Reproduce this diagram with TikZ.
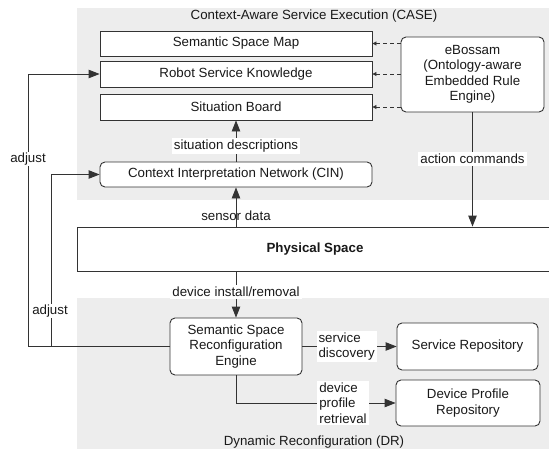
\documentclass[tikz,border=0pt]{standalone}
\usepackage{fontspec}
\setmainfont{Liberation Sans}
\usetikzlibrary{arrows.meta}
\definecolor{panel}{HTML}{EDEDED}
\definecolor{ink}{HTML}{333333}
\tikzset{
  box/.style={draw=ink, line width=0.9pt, fill=white, inner sep=0pt, align=center,
              font=\fontsize{13.3}{15.5}\selectfont, text=black!90},
  rbox/.style={box, rounded corners=5pt},
  arr/.style={draw=ink, line width=0.9pt, -{Triangle[length=11pt,width=8.5pt]}},
  darr/.style={draw=ink, line width=0.9pt, dashed, dash pattern=on 4pt off 3pt, -{Triangle[length=4pt,width=4pt]}},
  lbl/.style={fill=white, inner sep=2pt, font=\fontsize{13.3}{15.5}\selectfont, text=black!90},
  title/.style={font=\fontsize{13.3}{15.5}\selectfont, text=black!90}
}
\begin{document}
\begin{tikzpicture}[x=1pt,y=-1pt]
\useasboundingbox (0,0) rectangle (549,452);
\clip (0,0) rectangle (549,452);

% background panels
\fill[panel] (77,8) rectangle (560,200);
\fill[panel] (77,298) rectangle (560,449);
\node[title] (casetitle) at (314,16) {Context-Aware Service Execution (CASE)};
\node[title] (drtitle) at (314,442) {Dynamic Reconfiguration (DR)};

% CASE components
\node[box, minimum width=272pt, minimum height=25pt] (ssm) at (236,43.5) {Semantic Space Map};
\node[box, minimum width=272pt, minimum height=26pt] (rsk) at (236,74) {Robot Service Knowledge};
\node[box, minimum width=272pt, minimum height=26pt] (sb) at (236,107) {Situation Board};
\node[rbox, minimum width=272pt, minimum height=25pt] (cin) at (236,174.5) {Context Interpretation Network (CIN)};
\node[rbox, minimum width=143pt, minimum height=75pt] (eb) at (472.5,74.5)
  {eBossam\\(Ontology-aware\\Embedded Rule\\Engine)};

% physical space
\node[box, minimum width=476pt, minimum height=44pt, font=\fontsize{13.3}{15.5}\selectfont\bfseries] (phys) at (315,249) {Physical Space};

% DR components
\node[rbox, minimum width=132pt, minimum height=57pt] (ssre) at (236,346.5)
  {Semantic Space\\Reconfiguration\\Engine};
\node[rbox, minimum width=141pt, minimum height=47pt] (sr) at (467.5,346.5) {Service Repository};
\node[rbox, minimum width=144pt, minimum height=46pt] (dpr) at (468,403) {Device Profile\\Repository};

% rule engine updates
\draw[darr] (eb.west |- ssm.east) -- (ssm.east);
\draw[darr] (eb.west |- rsk.east) -- (rsk.east);
\draw[darr] (eb.west |- sb.east) -- (sb.east);

% data flow
\draw[arr] (cin.north) -- node[lbl, pos=0.38] (sitlbl) {situation descriptions} (sb.south);
\draw[arr] (cin.south |- phys.north) -- node[lbl, pos=0.28, fill=none] (senlbl) {sensor data} (cin.south);
\draw[arr] (eb.south) -- node[lbl, pos=0.41] (actlbl) {action commands} (eb.south |- phys.north);
\draw[arr] (ssre.north |- phys.south) -- node[lbl, pos=0.45] (devlbl) {device install/removal} (ssre.north);
\draw[arr] (ssre.east) -- node[lbl, pos=0.47, align=left] (sdlbl) {service\\discovery} (sr.west);
\draw[arr] (ssre.south) |- (dpr.west);
\node[lbl, align=left] (dprlbl) at (343,403) {device\\profile\\retrieval};

% adjustment feedback
\coordinate (outer) at (28,346.5);
\coordinate (inner) at (51,346.5);
\draw[draw=ink, line width=0.9pt] (ssre.west) -- (outer);
\draw[arr] (outer) |- (rsk.west);
\draw[arr] (inner) |- (cin.west);
\node[lbl, inner sep=1pt] (adj1) at (28,159) {adjust};
\node[lbl, inner sep=1pt] (adj2) at (50,311) {adjust};
\end{tikzpicture}
\end{document}
